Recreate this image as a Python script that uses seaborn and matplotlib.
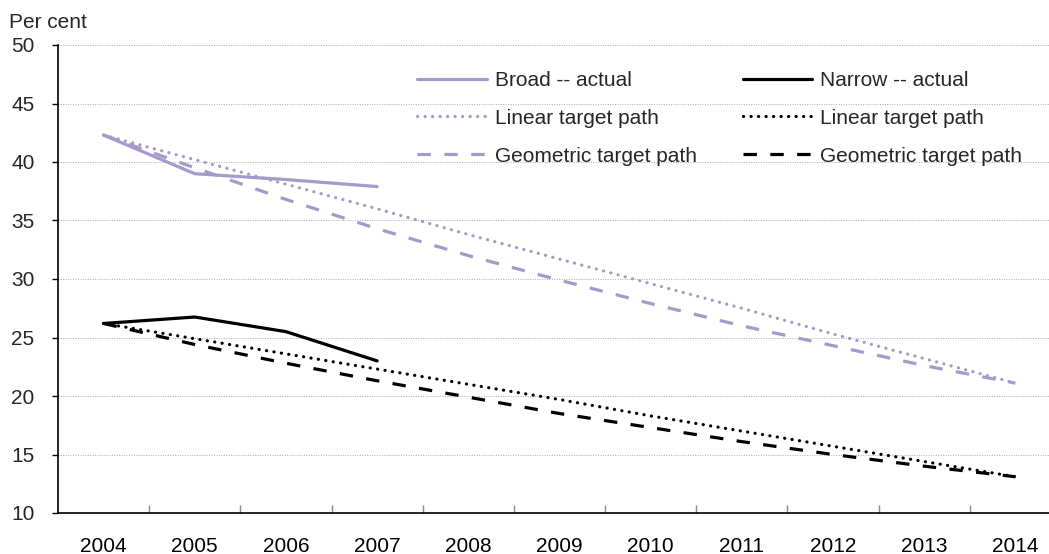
import matplotlib
matplotlib.use("Agg")
import matplotlib.pyplot as plt
import seaborn as sns
import numpy as np
import pandas as pd

years = ["2004", "2005", "2006", "2007", "2008", "2009", "2010", "2011", "2012", "2013", "2014"]
broad_actual = [42.3, 39.0, 38.5, 37.9]
broad_linear = [42.3, 40.2, 38.1, 36.0, 33.8, 31.7, 29.6, 27.5, 25.3, 23.2, 21.1]
broad_geometric = [42.3, 39.5, 36.8, 34.3, 32.0, 29.9, 27.9, 26.0, 24.3, 22.6, 21.1]
narrow_actual = [26.2, 26.75, 25.5, 23.0]
narrow_linear = [26.2, 24.9, 23.6, 22.3, 21.0, 19.7, 18.3, 17.0, 15.7, 14.4, 13.1]
narrow_geometric = [26.2, 24.4, 22.8, 21.3, 19.9, 18.5, 17.3, 16.1, 15.0, 14.0, 13.1]
labels = ["Broad -- actual", "Linear target path", "Geometric target path",
          "Narrow -- actual", "Linear target path", "Geometric target path"]
y_ticks = [10, 15, 20, 25, 30, 35, 40, 45, 50]

sns.set_theme(style="white")
plt.rcParams['font.family'] = ['Liberation Sans', 'DejaVu Sans']

FS = 15
W, H = 1049, 554
fig = plt.figure(figsize=(W / 100, H / 100), dpi=100)
ax_left, ax_right, ax_top, ax_bot = 58, 1061, 45, 513
ax = fig.add_axes([ax_left / W, (H - ax_bot) / H, (ax_right - ax_left) / W, (ax_bot - ax_top) / H])

lav = "#A69ACB"
blk = "#000000"
lw = 2.3
dot = (0, (0.05, 2.3))
dash = (0, (4.2, 4.2))

series = [
    (broad_actual, lav, "-", labels[0]),
    (broad_linear, lav, dot, labels[1]),
    (broad_geometric, lav, dash, labels[2]),
    (narrow_actual, blk, "-", labels[3]),
    (narrow_linear, blk, dot, labels[4]),
    (narrow_geometric, blk, dash, labels[5]),
]
handles = []
for vals, col, ls, lab in series:
    x = np.arange(len(vals))
    sns.lineplot(x=x, y=vals, ax=ax, color=col, linewidth=lw, label=lab, legend=False)
    line = ax.lines[-1]
    line.set_linestyle(ls)
    if ls == dot:
        line.set_dash_capstyle("round")
    handles.append(line)

ax.set_xlim(-0.5, len(years) - 0.5)
ax.set_ylim(10, 50)
ax.set_yticks(y_ticks)
ax.set_yticklabels([str(v) for v in y_ticks], fontsize=FS)
ax.set_xticks(np.arange(len(years)))
ax.set_xticklabels(years, fontsize=FS)
ax.set_xticks(np.arange(0.5, len(years) - 1, 1.0), minor=True)
ax.tick_params(axis="x", which="major", length=0, pad=17, colors="black")
ax.tick_params(axis="x", which="minor", direction="in", length=6, width=1, color="#888888", bottom=True)
ax.tick_params(axis="y", which="major", direction="out", length=4, width=1, color="black", pad=13, left=True)
ax.set_xlabel("")
ax.set_ylabel("")

ax.grid(False)
for v in y_ticks[1:]:
    ax.axhline(v, color="#a8a8a8", linewidth=0.7, linestyle=(0, (1, 1.5)), zorder=0)

for s in ["top", "right"]:
    ax.spines[s].set_visible(False)
ax.spines["left"].set_color("black")
ax.spines["bottom"].set_color("black")
ax.spines["left"].set_linewidth(1.2)
ax.spines["bottom"].set_linewidth(1.2)

fig.text(9 / W, 1 - 22 / H, "Per cent", fontsize=FS, va="center", ha="left")

leg = ax.legend(handles=handles, labels=labels, ncol=2, frameon=False, fontsize=FS,
                loc="upper left", bbox_to_anchor=(417 / W, 1 - 71 / H),
                bbox_transform=fig.transFigure, handlelength=3.35, handletextpad=0.38,
                labelspacing=0.9, columnspacing=2.2, borderpad=0, borderaxespad=0)

fig.savefig("out.png", dpi=100)
